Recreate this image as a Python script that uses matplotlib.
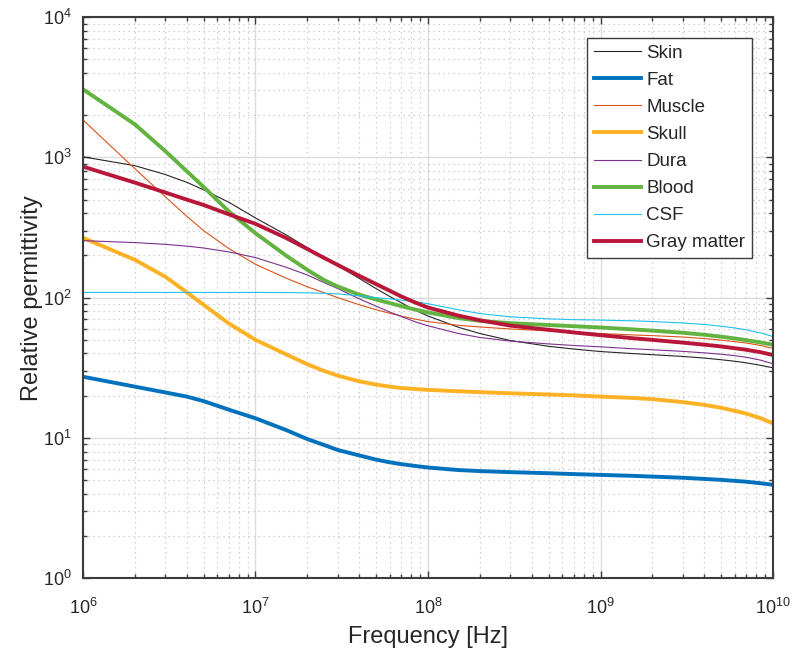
# Relative permittivity of head tissues versus frequency (log-log).
import matplotlib
matplotlib.use("Agg")
import matplotlib.pyplot as plt
from matplotlib.ticker import LogLocator, NullFormatter

plt.rcParams["font.family"] = ["Liberation Sans", "DejaVu Sans"]
plt.rcParams["mathtext.fontset"] = "custom"
plt.rcParams["mathtext.rm"] = "Liberation Sans"

freq = [1e6, 2e6, 3e6, 4e6, 5e6, 7e6, 1e7, 1.5e7, 2e7, 2.5e7, 3e7,
        4e7, 5e7, 6e7, 7e7, 8.5e7, 1e8, 1.5e8, 2e8, 3e8, 5e8, 7e8,
        1e9, 1.5e9, 2e9, 3e9, 4e9, 5e9, 6e9, 7e9, 8.5e9, 1e10]

skin = [1010, 873, 755, 664, 588, 479, 370, 281, 227, 193, 169,
        137, 116, 102, 92, 81, 74, 61.5, 55.5, 49.5, 45, 43,
        41.3, 40.0, 39.2, 38.1, 37.1, 36.1, 35.2, 34.3, 32.9, 31.6]
fat = [27.3, 23.2, 21.1, 19.7, 18.3, 15.9, 13.8, 11.4, 9.8, 8.9, 8.2,
       7.5, 7.0, 6.7, 6.5, 6.3, 6.15, 5.9, 5.8, 5.7, 5.6, 5.52,
       5.45, 5.37, 5.3, 5.2, 5.1, 5.02, 4.94, 4.87, 4.75, 4.63]
muscle = [1850, 830, 524, 380, 301, 224, 173, 138, 119.5, 108.5, 100,
          89, 82, 77.4, 73.9, 70.2, 67.5, 63.5, 61.8, 59.8, 58, 56.8,
          55.5, 54.3, 53.6, 52.4, 51.1, 49.8, 48.6, 47.5, 45.6, 43.5]
skull = [267, 186, 141, 109, 89, 65.5, 50, 39.5, 33.5, 30, 27.8,
         25.3, 24.0, 23.2, 22.7, 22.3, 22.0, 21.5, 21.2, 20.8, 20.4, 20.1,
         19.7, 19.3, 18.9, 18.0, 17.2, 16.4, 15.6, 14.9, 13.8, 12.7]
dura = [255, 247, 240, 233, 226, 212, 193, 165, 145, 128, 116,
        98, 87, 79, 73.5, 67, 63, 55.5, 52, 49, 46.8, 45.6,
        44.6, 43.3, 42.5, 41.4, 40.4, 39.5, 38.6, 37.6, 35.8, 33.8]
blood = [3060, 1720, 1109, 796, 616, 412, 288, 200, 157.6, 133.3, 120,
         105, 97, 91.5, 87, 82, 78.5, 71.5, 68.3, 65.8, 63.8, 62.6,
         61.3, 59.5, 58.2, 56.2, 54.4, 52.7, 51.2, 49.8, 47.9, 46.2]
csf = [109, 109, 109, 109, 109, 109, 109, 108.7, 108.2, 107.4, 106.3,
       103.2, 100, 98, 96, 93.3, 90.5, 82, 77, 73, 70.6, 69.7,
       69.2, 68.4, 67.6, 66, 64.4, 62.6, 60.8, 59, 56, 52.8]
gray_matter = [860, 661, 562, 500, 458, 393, 336, 267, 222, 192, 171,
               143, 125, 112, 102, 92, 85, 74.5, 69, 63.2, 59, 56.5,
               54, 51.5, 50, 47.8, 46.2, 44.9, 43.6, 42.5, 40.8, 39]

labels = ["Skin", "Fat", "Muscle", "Skull", "Dura", "Blood", "CSF", "Gray matter"]
series = [skin, fat, muscle, skull, dura, blood, csf, gray_matter]
colors = ["#262626", "#0072BD", "#D95319", "#FDB125", "#7E2F8E",
          "#62B340", "#1EC0EE", "#B8173A"]
widths = [0.8, 2.8, 0.8, 2.8, 0.8, 2.8, 0.8, 2.8]

text_color = "#262626"

fig = plt.figure(figsize=(7.98, 6.6), dpi=100)
ax = fig.add_axes([0.104, 0.124, 0.8647, 0.8500])

for lab, vals, col, lw in zip(labels, series, colors, widths):
    ax.plot(freq, vals, color=col, lw=lw, label=lab)

ax.set_xscale("log")
ax.set_yscale("log")
ax.set_xlim(1e6, 1e10)
ax.set_ylim(1, 1e4)

ax.xaxis.set_minor_locator(LogLocator(base=10, subs=range(2, 10), numticks=20))
ax.yaxis.set_minor_locator(LogLocator(base=10, subs=range(2, 10), numticks=20))
ax.xaxis.set_minor_formatter(NullFormatter())
ax.yaxis.set_minor_formatter(NullFormatter())

ax.grid(True, which="major", color="#dcdcdc", lw=1.0, ls="-")
ax.grid(True, which="minor", color="#c4c4c4", lw=0.9, ls=(0, (1, 3)))
ax.set_axisbelow(True)

for sp in ax.spines.values():
    sp.set_color("#3c3c3c")
    sp.set_linewidth(1.5)

ax.tick_params(which="both", direction="in", top=True, right=True,
               colors="#3c3c3c", labelcolor=text_color, width=1.0)
ax.tick_params(which="major", length=5, labelsize=13)
ax.tick_params(which="minor", length=3)
ax.tick_params(axis="x", which="major", pad=14)
ax.tick_params(axis="y", which="major", pad=8)

ax.set_xlabel("Frequency [Hz]", fontsize=17, color=text_color, labelpad=6)
ax.set_ylabel("Relative permittivity", fontsize=17, color=text_color, labelpad=0)

leg = ax.legend(loc="upper right", bbox_to_anchor=(0.9696, 0.9626),
                borderaxespad=0, fontsize=13.5, frameon=True, fancybox=False,
                handlelength=2.5, handletextpad=0.3, labelspacing=0.53,
                borderpad=0.35)
leg.get_frame().set_edgecolor("#3c3c3c")
leg.get_frame().set_linewidth(1.0)
leg.get_frame().set_alpha(1)
for t in leg.get_texts():
    t.set_color(text_color)

fig.savefig("out.png", dpi=100)
